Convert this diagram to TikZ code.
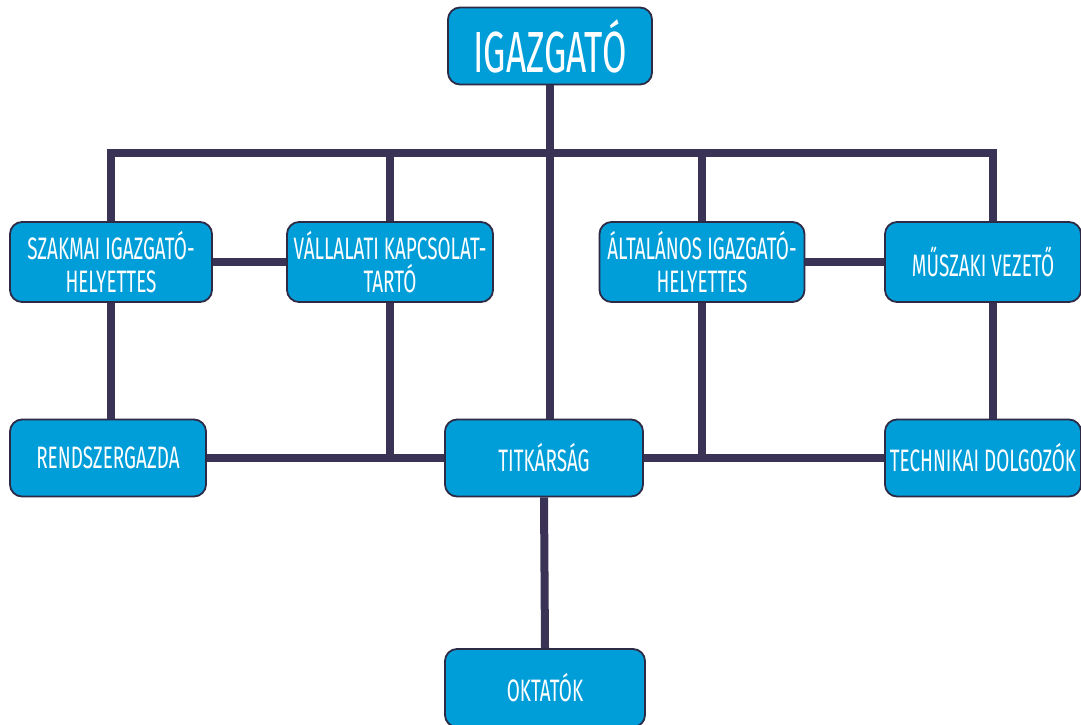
\documentclass[tikz,border=0pt]{standalone}
\usepackage{fontspec}
\setmainfont{Fira Sans}[FakeStretch=0.61]
\usepackage{tikz}
\usetikzlibrary{positioning}
\definecolor{boxblue}{RGB}{0,158,217}
\definecolor{boxedge}{RGB}{45,42,70}
\definecolor{linkcol}{RGB}{58,51,86}

\begin{document}
\begin{tikzpicture}[
    x=1pt, y=-1pt,
    unit/.style={rectangle, rounded corners=12pt, draw=boxedge, line width=1.8pt, fill=boxblue, text=white, align=center, minimum width=202pt, minimum height=80pt, inner sep=2pt, font=\fontsize{31}{33}\selectfont},
    link/.style={draw=linkcol, line width=8pt},
]
    \fill[white] (0,0) rectangle (1081,725);
    \useasboundingbox (0,0) rectangle (1081,725);

    \node[unit, minimum width=204pt, minimum height=77pt, font=\fontsize{58}{60}\selectfont] (igazgato) at (550,46) {IGAZGATÓ};
    \node[unit] (szakmai) at (111,262) {SZAKMAI IGAZGATÓ-\\HELYETTES};
    \node[unit, minimum width=206pt] (vallalati) at (390,262) {VÁLLALATI KAPCSOLAT-\\TARTÓ};
    \node[unit, minimum width=205pt] (altalanos) at (702,262) {ÁLTALÁNOS IGAZGATÓ-\\HELYETTES};
    \node[unit, minimum width=196pt] (muszaki) at (983,262) {MŰSZAKI VEZETŐ};
    \node[unit, minimum width=196pt, minimum height=77pt] (rendszer) at (108,458) {RENDSZERGAZDA};
    \node[unit, minimum width=198pt, minimum height=77pt] (titkarsag) at (544,458) {TITKÁRSÁG};
    \node[unit, minimum width=196pt, minimum height=77pt] (technikai) at (983,458) {TECHNIKAI DOLGOZÓK};
    \node[unit, minimum width=200pt, minimum height=78pt] (oktatok) at (545,688) {OKTATÓK};

    \coordinate (barR) at (993,153);

    % upper level
    \draw[link] (szakmai.north) |- (barR) -- (barR |- muszaki.north);
    \draw[link] (vallalati.north) -- (vallalati.north |- barR);
    \draw[link] (altalanos.north) -- (altalanos.north |- barR);
    \draw[link] (igazgato.south) -- (igazgato.south |- titkarsag.north);
    \draw[link] (szakmai.east) -- (vallalati.west);
    \draw[link] (altalanos.east) -- (muszaki.west);

    % lower level
    \draw[link] (szakmai.south) -- (szakmai.south |- rendszer.north);
    \draw[link] (rendszer.east) -- (titkarsag.west);
    \draw[link] (vallalati.south) -- (vallalati.south |- titkarsag.west);
    \draw[link] (titkarsag.east) -- (technikai.west);
    \draw[link] (altalanos.south) -- (altalanos.south |- titkarsag.east);
    \draw[link] (barR |- muszaki.south) -- (barR |- technikai.north);
    \draw[link] (titkarsag.south) -- (oktatok.north);
\end{tikzpicture}
\end{document}
